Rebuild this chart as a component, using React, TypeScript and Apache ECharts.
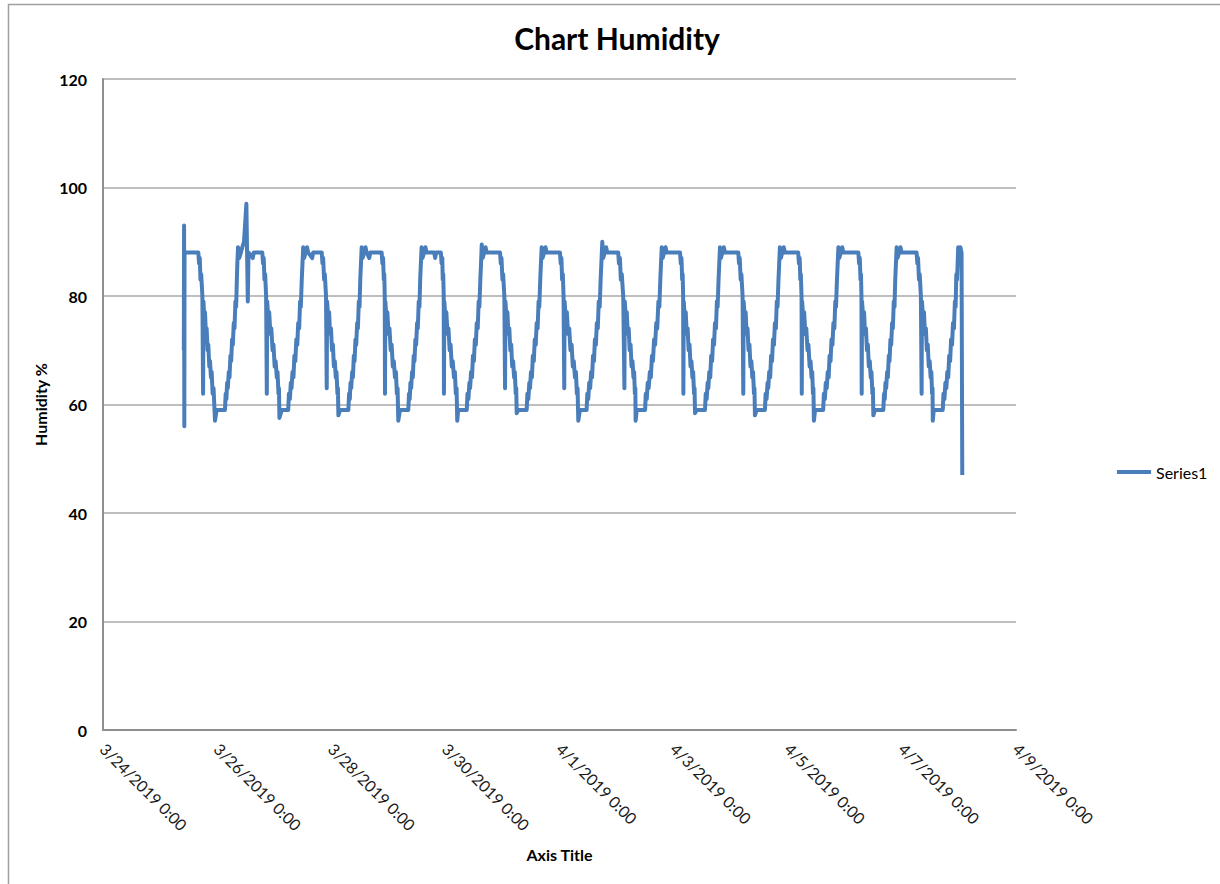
import React, { useEffect, useRef } from 'react';
import * as echarts from 'echarts';

// x values: hours since 3/24/2019 0:00, y values: humidity %
const xTickLabels = [
  '3/24/2019 0:00', '3/26/2019 0:00', '3/28/2019 0:00', '3/30/2019 0:00',
  '4/1/2019 0:00', '4/3/2019 0:00', '4/5/2019 0:00', '4/7/2019 0:00', '4/9/2019 0:00',
];

const cycle0: [number, number][] = [
  [34.0, 70], [34.1, 93], [34.2, 56], [34.3, 88], [40.1, 88],
  [40.4, 86], [40.7, 87], [41.0, 83], [41.3, 84], [41.8, 80], [42.1, 62], [42.25, 79], [42.6, 76],
  [42.9, 77], [43.3, 73], [43.6, 74], [44.0, 70], [44.3, 71], [44.7, 67], [45.0, 68], [45.4, 65],
  [45.7, 66], [46.1, 62], [46.5, 63], [47.1, 57], [47.8, 59], [51.3, 59],
  [51.6, 62], [51.9, 61], [52.2, 64], [52.5, 63], [52.9, 66], [53.2, 65], [53.6, 69], [53.9, 68],
  [54.3, 72], [54.6, 71], [55.0, 75], [55.3, 74], [55.7, 79], [56.0, 78], [56.3, 83], [56.5, 86],
  [56.8, 89], [57.3, 87], [58.0, 88], [58.6, 89], [59.3, 90], [60.3, 97], [60.9, 79], [61.2, 88],
  [63.0, 87], [63.4, 88],
];
const cycle1: [number, number][] = [
  [67.0, 88], [67.3, 86], [67.6, 87], [67.9, 83], [68.2, 84], [68.6, 80], [68.9, 62], [69.05, 79],
  [69.5, 76], [69.9, 77], [70.4, 73], [70.8, 74], [71.3, 70], [71.7, 71], [72.2, 67], [72.6, 68],
  [73.1, 65], [73.4, 66], [73.8, 62], [74.0, 63], [74.2, 57.5], [75.2, 59], [77.9, 59],
  [78.2, 62], [78.6, 61], [79.0, 64], [79.3, 63], [79.7, 66], [80.1, 65], [80.5, 69], [80.9, 68],
  [81.3, 72], [81.7, 71], [82.1, 75], [82.5, 74], [82.9, 79], [83.2, 78], [83.6, 83], [83.9, 86],
  [84.2, 89], [84.6, 87], [85.2, 88], [85.8, 89], [86.3, 88], [88.0, 87], [88.4, 88],
];
const cycle2: [number, number][] = [
  [92.0, 88], [92.3, 86], [92.6, 87], [93.0, 83], [93.3, 84], [93.8, 80], [94.1, 63], [94.25, 79],
  [94.7, 76], [95.1, 77], [95.5, 73], [95.9, 74], [96.3, 70], [96.7, 71], [97.1, 67], [97.5, 68],
  [97.9, 65], [98.2, 66], [98.6, 62], [98.8, 63], [99.0, 58], [99.7, 59], [103.2, 59],
  [103.5, 62], [103.8, 61], [104.1, 64], [104.4, 63], [104.8, 66], [105.1, 65], [105.5, 69],
  [105.8, 68], [106.2, 72], [106.5, 71], [106.9, 75], [107.2, 74], [107.6, 79], [107.9, 78],
  [108.2, 83], [108.5, 86], [108.8, 89], [109.2, 87], [109.8, 88], [110.4, 89], [110.9, 88],
  [112.0, 87], [112.4, 88],
];
const cycle3: [number, number][] = [
  [117.2, 88], [117.5, 86], [117.8, 87], [118.1, 83], [118.3, 84], [118.5, 80], [118.6, 62],
  [118.75, 79], [119.2, 76], [119.6, 77], [120.1, 73], [120.5, 74], [121.0, 70], [121.4, 71],
  [121.9, 67], [122.3, 68], [122.8, 65], [123.2, 66], [123.6, 62], [123.9, 63], [124.2, 57],
  [124.9, 59], [128.4, 59],
  [128.7, 62], [129.0, 61], [129.3, 64], [129.6, 63], [130.0, 66], [130.3, 65], [130.7, 69],
  [131.0, 68], [131.4, 72], [131.7, 71], [132.1, 75], [132.4, 74], [132.8, 79], [133.1, 78],
  [133.4, 83], [133.7, 86], [134.0, 89], [134.4, 87], [135.0, 88], [135.6, 89], [136.1, 88],
  [139.3, 88], [139.7, 87], [140.1, 88],
];
const cycle4: [number, number][] = [
  [142.1, 88], [142.4, 86], [142.7, 87], [142.9, 83], [143.1, 84], [143.3, 80], [143.4, 62],
  [143.55, 79], [144.0, 76], [144.4, 77], [144.9, 73], [145.3, 74], [145.8, 70], [146.2, 71],
  [146.7, 67], [147.1, 68], [147.6, 65], [148.0, 66], [148.4, 62], [148.7, 63], [149.0, 57],
  [149.4, 59], [153.0, 59],
  [153.3, 62], [153.7, 61], [154.1, 64], [154.4, 63], [154.8, 66], [155.2, 65], [155.6, 69],
  [156.0, 68], [156.4, 72], [156.8, 71], [157.2, 75], [157.6, 74], [158.0, 79], [158.3, 78],
  [158.7, 83], [159.0, 86], [159.3, 89.5], [159.7, 87], [160.3, 88], [160.9, 89], [161.4, 88],
];
const cycle5: [number, number][] = [
  [167.0, 88], [167.3, 86], [167.6, 87], [168.0, 83], [168.3, 84], [168.8, 80], [169.1, 63],
  [169.25, 79], [169.7, 76], [170.1, 77], [170.5, 73], [170.9, 74], [171.3, 70], [171.7, 71],
  [172.1, 67], [172.5, 68], [172.9, 65], [173.2, 66], [173.6, 62], [173.8, 63], [174.0, 58.4],
  [174.7, 59], [178.2, 59],
  [178.5, 62], [178.9, 61], [179.3, 64], [179.6, 63], [180.0, 66], [180.4, 65], [180.8, 69],
  [181.2, 68], [181.6, 72], [182.0, 71], [182.4, 75], [182.8, 74], [183.2, 79], [183.5, 78],
  [183.9, 83], [184.2, 86], [184.5, 89], [184.9, 87], [185.5, 88], [186.1, 89], [186.6, 88],
];
const cycle6: [number, number][] = [
  [192.2, 88], [192.5, 86], [192.8, 87], [193.1, 83], [193.4, 84], [193.7, 80], [194.0, 63],
  [194.15, 79], [194.6, 76], [195.1, 77], [195.6, 73], [196.1, 74], [196.6, 70], [197.1, 71],
  [197.6, 67], [198.0, 68], [198.5, 65], [198.9, 66], [199.3, 62], [199.6, 63], [199.9, 57],
  [200.6, 59], [203.4, 59],
  [203.7, 62], [204.1, 61], [204.5, 64], [204.9, 63], [205.3, 66], [205.7, 65], [206.1, 69],
  [206.5, 68], [206.9, 72], [207.3, 71], [207.7, 75], [208.1, 74], [208.5, 79], [208.9, 78],
  [209.3, 83], [209.6, 86], [210.0, 90], [210.4, 87], [211.0, 88], [211.6, 89], [212.1, 88],
];
const cycle7: [number, number][] = [
  [216.7, 88], [217.0, 86], [217.4, 87], [217.8, 83], [218.2, 84], [218.8, 80], [219.3, 63],
  [219.45, 79], [219.9, 76], [220.3, 77], [220.7, 73], [221.1, 74], [221.5, 70], [221.9, 71],
  [222.3, 67], [222.7, 68], [223.1, 65], [223.4, 66], [223.7, 62], [223.9, 63], [224.0, 57],
  [224.5, 59], [228.0, 59],
  [228.3, 62], [228.7, 61], [229.1, 64], [229.5, 63], [230.0, 66], [230.4, 65], [230.9, 69],
  [231.3, 68], [231.8, 72], [232.2, 71], [232.7, 75], [233.1, 74], [233.6, 79], [234.0, 78],
  [234.4, 83], [234.7, 86], [235.0, 89], [235.4, 87], [236.0, 88], [236.6, 89], [237.1, 88],
];
const cycle8: [number, number][] = [
  [242.7, 88], [243.0, 86], [243.3, 87], [243.6, 83], [243.8, 84], [244.0, 80], [244.1, 62],
  [244.25, 79], [244.7, 76], [245.1, 77], [245.5, 73], [245.9, 74], [246.3, 70], [246.7, 71],
  [247.1, 67], [247.5, 68], [247.9, 65], [248.2, 66], [248.6, 62], [248.8, 63], [249.0, 58.4],
  [249.7, 59], [253.2, 59],
  [253.5, 62], [253.9, 61], [254.3, 64], [254.6, 63], [255.0, 66], [255.4, 65], [255.8, 69],
  [256.2, 68], [256.6, 72], [257.0, 71], [257.4, 75], [257.8, 74], [258.2, 79], [258.5, 78],
  [258.9, 83], [259.2, 86], [259.5, 89], [259.9, 87], [260.5, 88], [261.1, 89], [261.6, 88],
];
const cycle9: [number, number][] = [
  [267.2, 88], [267.5, 86], [267.8, 87], [268.2, 83], [268.5, 84], [269.0, 80], [269.3, 62],
  [269.45, 79], [269.9, 76], [270.3, 77], [270.7, 73], [271.1, 74], [271.5, 70], [271.9, 71],
  [272.3, 67], [272.7, 68], [273.1, 65], [273.4, 66], [273.8, 62], [274.0, 63], [274.2, 58],
  [274.9, 59], [278.4, 59],
  [278.7, 62], [279.1, 61], [279.5, 64], [279.8, 63], [280.2, 66], [280.6, 65], [281.0, 69],
  [281.4, 68], [281.8, 72], [282.2, 71], [282.6, 75], [283.0, 74], [283.4, 79], [283.7, 78],
  [284.1, 83], [284.4, 86], [284.7, 89], [285.1, 87], [285.7, 88], [286.3, 89], [286.8, 88],
];
const cycle10: [number, number][] = [
  [292.4, 88], [292.7, 86], [293.0, 87], [293.3, 83], [293.5, 84], [293.8, 80], [293.9, 62],
  [294.05, 79], [294.5, 76], [294.9, 77], [295.4, 73], [295.8, 74], [296.3, 70], [296.7, 71],
  [297.2, 67], [297.6, 68], [298.0, 65], [298.3, 66], [298.6, 62], [298.8, 63], [299.0, 57],
  [299.5, 59], [302.9, 59],
  [303.2, 62], [303.6, 61], [304.0, 64], [304.4, 63], [304.8, 66], [305.2, 65], [305.6, 69],
  [306.0, 68], [306.4, 72], [306.8, 71], [307.2, 75], [307.6, 74], [308.0, 79], [308.3, 78],
  [308.7, 83], [309.0, 86], [309.3, 89], [309.7, 87], [310.3, 88], [310.9, 89], [311.4, 88],
];
const cycle11: [number, number][] = [
  [317.7, 88], [318.0, 86], [318.3, 87], [318.6, 83], [318.8, 84], [319.0, 80], [319.1, 62],
  [319.25, 79], [319.7, 76], [320.1, 77], [320.5, 73], [320.9, 74], [321.3, 70], [321.7, 71],
  [322.1, 67], [322.5, 68], [322.9, 65], [323.2, 66], [323.6, 62], [323.8, 63], [324.0, 58],
  [324.7, 59], [328.2, 59],
  [328.5, 62], [328.8, 61], [329.1, 64], [329.4, 63], [329.8, 66], [330.1, 65], [330.5, 69],
  [330.8, 68], [331.2, 72], [331.5, 71], [331.9, 75], [332.2, 74], [332.6, 79], [332.9, 78],
  [333.2, 83], [333.5, 86], [333.8, 89], [334.2, 87], [334.8, 88], [335.4, 89], [335.9, 88],
];
const cycle12: [number, number][] = [
  [342.2, 88], [342.5, 86], [342.8, 87], [343.2, 83], [343.5, 84], [344.0, 80], [344.3, 62],
  [344.45, 79], [344.9, 76], [345.3, 77], [345.7, 73], [346.1, 74], [346.5, 70], [346.9, 71],
  [347.3, 67], [347.7, 68], [348.1, 65], [348.4, 66], [348.7, 62], [348.9, 63], [349.0, 57],
  [349.4, 59], [353.2, 59],
  [353.5, 62], [353.9, 61], [354.3, 64], [354.7, 63], [355.1, 66], [355.5, 65], [355.9, 69],
  [356.3, 68], [356.7, 72], [357.1, 71], [357.5, 75], [357.9, 74], [358.3, 79], [358.6, 78],
  [358.9, 84], [359.2, 83], [359.7, 89], [360.1, 86], [360.6, 89], [361.1, 88], [361.4, 47],
];

const readings: [number, number][] = [
  ...cycle0, ...cycle1, ...cycle2, ...cycle3, ...cycle4, ...cycle5, ...cycle6,
  ...cycle7, ...cycle8, ...cycle9, ...cycle10, ...cycle11, ...cycle12,
];

const FONT = 'Lato, "Open Sans", "DejaVu Sans", sans-serif';

export default function App() {
  const ref = useRef<HTMLDivElement>(null);

  useEffect(() => {
    if (!ref.current) return;
    const chart = echarts.init(ref.current, null, { renderer: 'svg' });
    chart.setOption({
      animation: false,
      backgroundColor: '#ffffff',
      graphic: [
        {
          type: 'rect',
          shape: { x: 8.5, y: 4.5, width: 1230, height: 900 },
          style: { fill: 'none', stroke: '#a0a0a0', lineWidth: 1.5 },
          silent: true,
        },
        {
          type: 'text',
          x: 617,
          y: 38,
          style: {
            text: 'Chart Humidity',
            fontFamily: FONT,
            fontWeight: 'bold',
            fontSize: 30,
            fill: '#000000',
            textAlign: 'center',
            textVerticalAlign: 'middle',
          },
        },
      ],
      legend: {
        data: ['Series1'],
        icon: 'rect',
        left: 1117,
        top: 464,
        padding: 0,
        itemWidth: 34,
        itemHeight: 4,
        itemStyle: { color: '#4a7ebb' },
        textStyle: { fontFamily: FONT, fontSize: 16, color: '#000000' },
      },
      grid: {
        left: 103,
        top: 79,
        width: 913,
        height: 651,
        containLabel: false,
        outerBoundsMode: 'none',
      },
      xAxis: {
        type: 'value',
        min: 0,
        max: 384,
        interval: 48,
        name: 'Axis Title',
        nameLocation: 'middle',
        nameGap: 116,
        nameTextStyle: { fontFamily: FONT, fontWeight: 'bold', fontSize: 16, color: '#000000' },
        axisLine: { show: true, lineStyle: { color: '#8f8f8f', width: 2 } },
        axisTick: { show: false },
        splitLine: { show: false },
        axisLabel: {
          rotate: -45,
          margin: 16,
          fontFamily: FONT,
          fontSize: 16,
          color: '#1a1a1a',
          formatter: (v: number) => xTickLabels[Math.round(v / 48)] ?? '',
        },
      },
      yAxis: {
        type: 'value',
        min: 0,
        max: 120,
        interval: 20,
        name: 'Humidity %',
        nameLocation: 'middle',
        nameGap: 51,
        nameTextStyle: { fontFamily: FONT, fontWeight: 'bold', fontSize: 16, color: '#000000' },
        axisLine: { show: true, lineStyle: { color: '#8f8f8f', width: 2 } },
        axisTick: { show: false },
        splitLine: { show: true, lineStyle: { color: '#a8a8a8', width: 1.5 } },
        axisLabel: {
          margin: 16,
          fontFamily: FONT,
          fontWeight: 'bold',
          fontSize: 16,
          color: '#000000',
        },
      },
      series: [
        {
          name: 'Series1',
          type: 'line',
          data: readings,
          symbol: 'none',
          showSymbol: false,
          lineStyle: { color: '#4a7ebb', width: 4, join: 'round' },
          itemStyle: { color: '#4a7ebb' },
        },
      ],
    });
    return () => chart.dispose();
  }, []);

  return (
    <div
      ref={ref}
      style={{ position: 'fixed', left: 0, top: 0, width: 1220, height: 884, background: '#ffffff' }}
    />
  );
}
